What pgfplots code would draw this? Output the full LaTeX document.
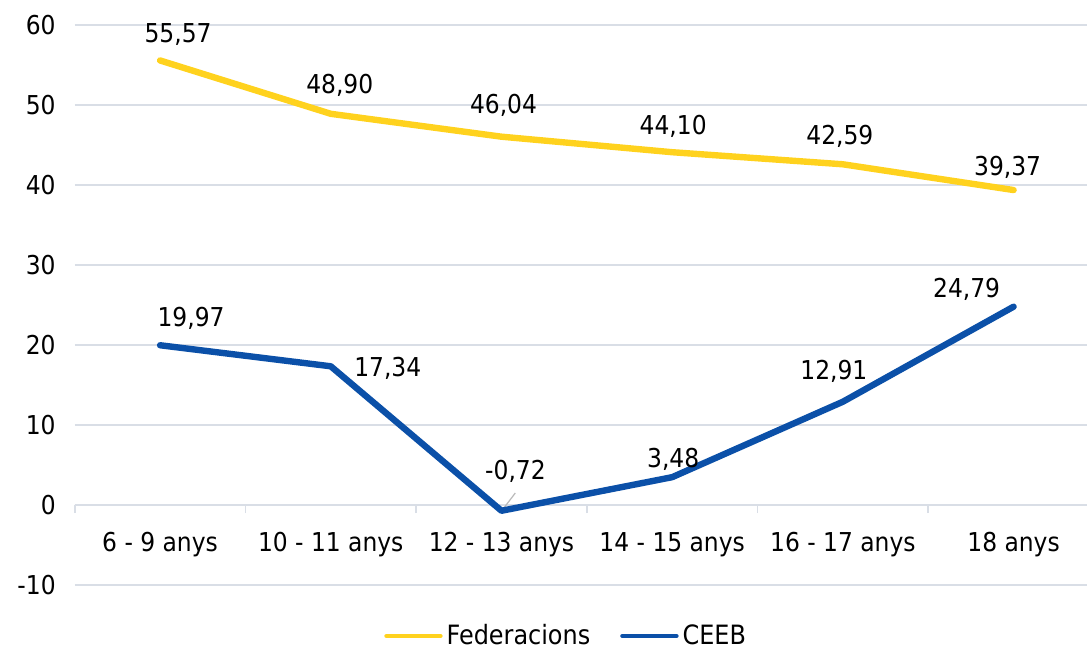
\documentclass[border=0pt]{standalone}
\usepackage{fontspec}
\setmainfont{DejaVu Sans Condensed}
\usepackage{pgfplots}
\usepackage{pgfplotstable}
\pgfplotsset{compat=1.18}
\definecolor{fedy}{HTML}{FFD21E}
\definecolor{ceeb}{HTML}{0B50A8}
\definecolor{gridc}{HTML}{D9DEE6}

\pgfplotstableread{
x y dx dy lab
0 55.57 9 13 55,57
1 48.90 4.5 14 48,90
2 46.04 1 15.5 46,04
3 44.10 0.5 13 44,10
4 42.59 -1.5 14 42,59
5 39.37 -3 11.5 39,37
}\fed

\pgfplotstableread{
x y dx dy lab
0 19.97 15.5 13.5 19,97
1 17.34 28.5 -1 17,34
2 -0.72 7 19.5 -0,72
3 3.48 0.5 9 3,48
4 12.91 -4.5 15 12,91
5 24.79 -23.5 8.5 24,79
}\ceebt

\begin{document}
\begin{tikzpicture}
\useasboundingbox (0,0) rectangle (543.5pt,325pt);
\begin{axis}[
  at={(37.35pt,32.5pt)}, anchor=south west,
  scale only axis, width=506.15pt, height=280pt,
  xmin=-0.5, xmax=5.43, ymin=-10, ymax=60,
  clip=false,
  axis x line*=middle, axis y line*=left,
  hide obscured x ticks=false, hide obscured y ticks=false,
  y axis line style={draw=none},
  x axis line style={draw=gridc, line width=0.9pt},
  ytick={-10,0,10,20,30,40,50,60},
  yticklabels={-10,0,10,20,30,40,50,60},
  ytick style={draw=none},
  ymajorgrids, grid style={draw=gridc, line width=0.9pt},
  xtick={0,1,2,3,4,5},
  xticklabels={6 - 9 anys,10 - 11 anys,12 - 13 anys,14 - 15 anys,16 - 17 anys,18 anys},
  major x tick style={draw=none},
  minor xtick={-0.5,0.5,1.5,2.5,3.5,4.5},
  minor x tick style={draw=gridc, line width=0.9pt},
  xtick align=outside, minor tick length=4pt,
  tick label style={font=\fontsize{13pt}{15pt}\selectfont, text=black},
  yticklabel style={xshift=-6pt},
  xticklabel style={yshift=-6pt},
  legend columns=2,
  legend style={draw=none, fill=none, at={(0.4815,0)}, anchor=center, yshift=-25.5pt, xshift=2.5pt,
    font=\fontsize{13.3pt}{15pt}\selectfont,
    /tikz/every even column/.append style={column sep=13pt}},
  legend image code/.code={\draw[#1, line width=2.2pt, line cap=round] (0pt,0pt) -- (27pt,0pt);},
  point meta=explicit symbolic,
  nodes near coords={\pgfplotspointmeta},
  visualization depends on={\thisrow{dx} \as \dx},
  visualization depends on={\thisrow{dy} \as \dy},
  every node near coord/.append style={anchor=center, xshift=\dx pt, yshift=\dy pt,
    font=\fontsize{13pt}{15pt}\selectfont, text=black},
]
\draw[gray!55, line width=0.6pt] (axis cs:2.005,-0.625) -- (axis cs:2.081,1.5);
\addplot[fedy, line width=3.2pt, line cap=round, line join=round] table[x=x, y=y, meta=lab] {\fed};
\addlegendentry{Federacions}
\addplot[ceeb, line width=3.2pt, line cap=round, line join=round] table[x=x, y=y, meta=lab] {\ceebt};
\addlegendentry{CEEB}
\end{axis}
\end{tikzpicture}
\end{document}
